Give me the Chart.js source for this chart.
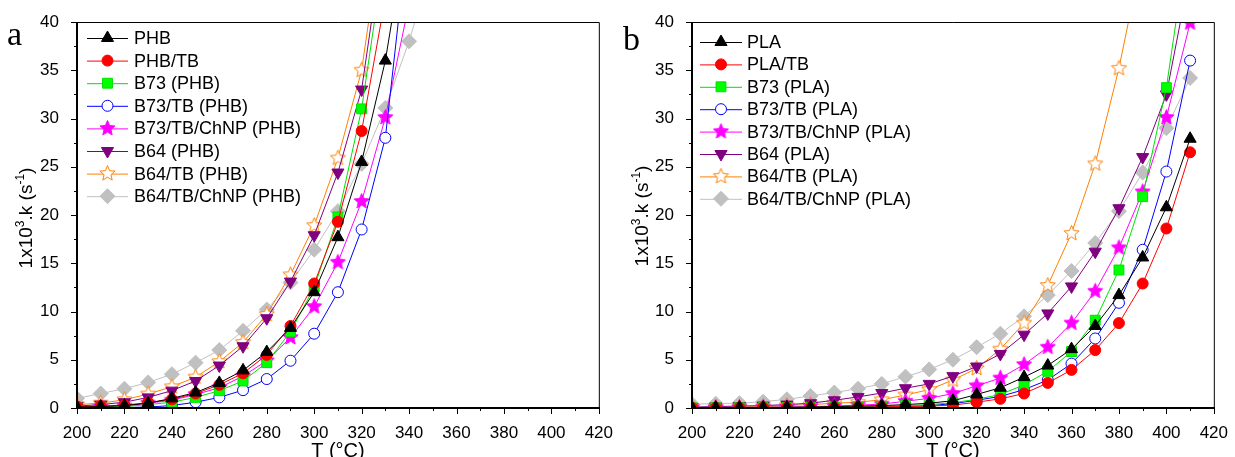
<!DOCTYPE html>
<html lang="en">
<head>
<meta charset="UTF-8">
<title>1x10³.k vs T</title>
<script src="https://cdn.jsdelivr.net/npm/chart.js"></script>
<style>
  body { margin: 0; background: #fff; }
  .panel { position: absolute; top: 0; }
</style>
</head>
<body>
<div class="panel" style="left:0"><canvas id="chartA" width="620" height="457"></canvas></div>
<div class="panel" style="left:615px"><canvas id="chartB" width="620" height="457"></canvas></div>
<script>
// temperatures (°C)
const tempsA = [200, 210, 220, 230, 240, 250, 260, 270, 280, 290, 300, 310, 320, 330, 340, 350];
const tempsB = [200, 210, 220, 230, 240, 250, 260, 270, 280, 290, 300, 310, 320, 330, 340, 350, 360, 370, 380, 390, 400, 410];

// panel a: PHB based samples, 1x10^3.k (s^-1)
const phb         = [0.1, 0.15, 0.25, 0.5, 1.0, 1.6, 2.6, 3.9, 5.8, 8.3, 12.0, 17.7, 25.5, 36.0, 51];
const phbTb       = [0.15, 0.2, 0.3, 0.55, 0.9, 1.5, 2.4, 3.6, 5.5, 8.5, 12.9, 19.3, 28.7, 42.5];
const b73Phb      = [0.05, 0.1, 0.15, 0.35, 0.6, 1.1, 1.8, 2.8, 4.7, 7.9, 12.5, 19.8, 31.0, 47.7];
const b73TbPhb    = [0.02, 0.03, 0.05, 0.1, 0.25, 0.6, 1.1, 1.85, 3.0, 4.9, 7.7, 12.0, 18.5, 28.0, 50];
const b73TbNpPhb  = [0.05, 0.1, 0.2, 0.5, 0.8, 1.4, 2.1, 3.3, 4.9, 7.3, 10.5, 15.1, 21.4, 30.1, 41.9];
const b64Phb      = [0.2, 0.35, 0.6, 1.1, 1.8, 2.8, 4.4, 6.4, 9.3, 13.1, 17.9, 24.4, 33.0, 50];
const b64TbPhb    = [0.35, 0.5, 0.85, 1.45, 2.2, 3.2, 4.8, 6.8, 9.7, 13.8, 18.9, 25.9, 35.0, 52];
const b64TbNpPhb  = [1.0, 1.5, 2.0, 2.65, 3.5, 4.7, 6.0, 8.0, 10.2, 13.0, 16.4, 20.4, 25.3, 31.1, 38.0, 46.3];

// panel b: PLA based samples
const pla         = [0.03, 0.04, 0.05, 0.06, 0.08, 0.1, 0.15, 0.2, 0.25, 0.35, 0.5, 0.75, 1.4, 2.1, 3.2, 4.4, 6.1, 8.5, 11.7, 15.6, 20.8, 27.9];
const plaTb       = [0.02, 0.02, 0.03, 0.04, 0.05, 0.06, 0.08, 0.1, 0.12, 0.15, 0.2, 0.3, 0.6, 0.95, 1.5, 2.6, 3.95, 6.0, 8.8, 12.9, 18.6, 26.5];
const b73Pla      = [0.02, 0.02, 0.03, 0.04, 0.05, 0.07, 0.1, 0.13, 0.18, 0.25, 0.35, 0.55, 0.9, 1.4, 2.4, 3.8, 5.85, 9.1, 14.3, 21.9, 33.2, 50];
const b73TbPla    = [0.01, 0.01, 0.02, 0.02, 0.03, 0.04, 0.05, 0.07, 0.1, 0.15, 0.25, 0.45, 0.8, 1.2, 1.9, 2.9, 4.6, 7.2, 10.9, 16.4, 24.5, 36.0];
const b73TbNpPla  = [0.02, 0.03, 0.05, 0.07, 0.1, 0.15, 0.2, 0.3, 0.4, 0.7, 1.0, 1.5, 2.3, 3.1, 4.5, 6.3, 8.8, 12.1, 16.6, 22.4, 30.1, 39.9];
const b64Pla      = [0.1, 0.15, 0.2, 0.25, 0.35, 0.5, 0.8, 1.15, 1.55, 2.05, 2.5, 3.3, 4.3, 5.6, 7.6, 9.8, 12.6, 16.2, 20.7, 26.0, 32.5, 45.2];
const b64TbPla    = [0.05, 0.05, 0.1, 0.15, 0.25, 0.35, 0.5, 0.6, 0.85, 1.35, 1.9, 2.9, 4.1, 6.1, 8.8, 12.7, 18.1, 25.3, 35.2, 47.2];
const b64TbNpPla  = [0.4, 0.45, 0.5, 0.65, 0.9, 1.25, 1.6, 2.0, 2.5, 3.25, 4.0, 5.0, 6.3, 7.7, 9.5, 11.7, 14.2, 17.1, 20.4, 24.4, 29.0, 34.2];

const labelsA = ['PHB', 'PHB/TB', 'B73 (PHB)', 'B73/TB (PHB)', 'B73/TB/ChNP (PHB)', 'B64 (PHB)', 'B64/TB (PHB)', 'B64/TB/ChNP (PHB)'];
const labelsB = ['PLA', 'PLA/TB', 'B73 (PLA)', 'B73/TB (PLA)', 'B73/TB/ChNP (PLA)', 'B64 (PLA)', 'B64/TB (PLA)', 'B64/TB/ChNP (PLA)'];

const FONT = 'Arial, "Liberation Sans", sans-serif';
Chart.defaults.font.family = FONT;
Chart.defaults.font.size = 17;
Chart.defaults.color = '#000';

function starImg(fill, stroke, r) {
  const c = document.createElement('canvas');
  const s = Math.ceil(r * 2 + 3);
  c.width = c.height = s;
  const g = c.getContext('2d');
  g.beginPath();
  for (let i = 0; i < 10; i++) {
    const rr = i % 2 ? r * 0.45 : r;
    const ang = -Math.PI / 2 + i * Math.PI / 5;
    g.lineTo(s / 2 + rr * Math.cos(ang), s / 2 + rr * Math.sin(ang));
  }
  g.closePath();
  g.fillStyle = fill; g.fill();
  g.lineWidth = 1; g.strokeStyle = stroke; g.stroke();
  return c;
}
const starFilled = starImg('#ff00ff', '#ff00ff', 8);
const starOpen = starImg('#ffffff', '#ff8000', 8);

// marker look of the 8 series (same order in both panels)
const styles = [
  { color: '#000000', fill: '#000000', pointStyle: 'triangle', radius: 7, rotation: 0 },
  { color: '#ff0000', fill: '#ff0000', pointStyle: 'circle', radius: 5.5, rotation: 0 },
  { color: '#00e000', fill: '#00ff00', pointStyle: 'rect', radius: 7, rotation: 0 },
  { color: '#0000ff', fill: '#ffffff', pointStyle: 'circle', radius: 5.5, rotation: 0 },
  { color: '#ff00ff', fill: '#ff00ff', pointStyle: starFilled, radius: 8, rotation: 0 },
  { color: '#800080', fill: '#800080', pointStyle: 'triangle', radius: 7, rotation: 180 },
  { color: '#ff8000', fill: '#ffffff', pointStyle: starOpen, radius: 8, rotation: 0 },
  { color: '#c0c0c0', fill: '#c0c0c0', pointStyle: 'rectRot', radius: 7.5, rotation: 0 }
];

function toPoints(temps, vals) {
  return vals.map((v, i) => ({ x: temps[i], y: v }));
}

function buildDatasets(temps, series, labels) {
  return series.map((vals, i) => {
    const st = styles[i];
    return {
      label: labels[i],
      data: toPoints(temps, vals),
      borderColor: st.color,
      backgroundColor: st.fill,
      borderWidth: 1,
      pointStyle: st.pointStyle,
      pointRadius: st.radius,
      pointRotation: st.rotation,
      pointBorderWidth: 1,
      pointBorderColor: st.color,
      pointBackgroundColor: st.fill,
      tension: 0
    };
  });
}

// rotated y title with real superscripts
function drawYTitle(ctx, cx, cy) {
  const big = '19px ' + FONT;
  const small = '12px ' + FONT;
  const parts = [['1x10', big, 0], ['3', small, -8], ['.k (s', big, 0], ['-1', small, -8], [')', big, 0]];
  let total = 0;
  parts.forEach(p => { ctx.font = p[1]; total += ctx.measureText(p[0]).width; });
  ctx.save();
  ctx.translate(cx, cy);
  ctx.rotate(-Math.PI / 2);
  ctx.fillStyle = '#000';
  ctx.textAlign = 'left';
  ctx.textBaseline = 'alphabetic';
  let x = -total / 2;
  parts.forEach(p => {
    ctx.font = p[1];
    ctx.fillText(p[0], x, 7 + p[2]);
    x += ctx.measureText(p[0]).width;
  });
  ctx.restore();
}

const decor = {
  id: 'decor',
  afterDraw(chart, args, o) {
    const ctx = chart.ctx, a = chart.chartArea, xs = chart.scales.x, ys = chart.scales.y;
    ctx.save();
    ctx.strokeStyle = '#000';
    // top/right frame thin, left/bottom axes thicker
    ctx.lineWidth = 1;
    ctx.beginPath();
    ctx.moveTo(a.left, a.top + 0.5); ctx.lineTo(a.right + 0.5, a.top + 0.5);
    ctx.lineTo(a.right + 0.5, a.bottom);
    ctx.stroke();
    ctx.lineWidth = 2;
    ctx.beginPath();
    ctx.moveTo(a.left, a.top); ctx.lineTo(a.left, a.bottom + 1);
    ctx.moveTo(a.left - 1, a.bottom); ctx.lineTo(a.right + 1, a.bottom);
    ctx.stroke();
    // ticks pointing outward
    ctx.lineWidth = 1;
    ctx.beginPath();
    for (let v = 200; v <= 420; v += 10) {
      const px = Math.round(xs.getPixelForValue(v)) + 0.5;
      const len = v % 20 === 0 ? 6 : 3;
      ctx.moveTo(px, a.bottom); ctx.lineTo(px, a.bottom + len);
    }
    for (let v = 0; v <= 40; v += 2.5) {
      const py = Math.round(ys.getPixelForValue(v)) + 0.5;
      const len = v % 5 === 0 ? 6 : 3;
      ctx.moveTo(a.left, py); ctx.lineTo(a.left - len, py);
    }
    ctx.stroke();

    // legend: line - marker - line, then label
    const L = o.legend;
    chart.data.datasets.forEach((ds, i) => {
      const y = L.y0 + i * L.dy;
      ctx.strokeStyle = ds.borderColor;
      ctx.lineWidth = 1;
      ctx.beginPath();
      ctx.moveTo(L.x1, y + 0.5); ctx.lineTo(L.x2, y + 0.5);
      ctx.stroke();
      ctx.fillStyle = ds.pointBackgroundColor;
      ctx.strokeStyle = ds.pointBorderColor;
      Chart.helpers.drawPoint(ctx, {
        pointStyle: ds.pointStyle, rotation: ds.pointRotation,
        radius: ds.pointRadius, borderWidth: 1
      }, (L.x1 + L.x2) / 2, y);
      ctx.fillStyle = '#000';
      ctx.font = '18px ' + FONT;
      ctx.textBaseline = 'middle';
      ctx.textAlign = 'left';
      ctx.fillText(ds.label, L.tx, y + 1);
    });

    // panel letter
    ctx.fillStyle = '#000';
    ctx.font = '34px "Liberation Serif", "Times New Roman", serif';
    ctx.textBaseline = 'alphabetic';
    ctx.textAlign = 'left';
    ctx.fillText(o.letter, o.letterX, o.letterY);

    // axis titles
    ctx.font = '20px ' + FONT;
    ctx.textAlign = 'center';
    ctx.fillText('T (°C)', (a.left + a.right) / 2, 457);
    drawYTitle(ctx, o.yTitleX, o.yTitleY);
    ctx.restore();
  }
};

function makeChart(id, temps, series, labels, deco, rightPad) {
  return new Chart(document.getElementById(id), {
    type: 'line',
    data: { datasets: buildDatasets(temps, series, labels) },
    options: {
      responsive: false,
      animation: false,
      devicePixelRatio: 1,
      layout: { padding: { top: 22, right: rightPad, bottom: 0, left: 0 } },
      plugins: { legend: { display: false }, tooltip: { enabled: false }, decor: deco },
      scales: {
        x: {
          type: 'linear', min: 200, max: 420,
          grid: { display: false },
          border: { display: false },
          ticks: { stepSize: 20, padding: 7, maxRotation: 0 },
          afterFit: s => { s.height = 49; }
        },
        y: {
          min: 0, max: 40,
          grid: { display: false },
          border: { display: false },
          ticks: { stepSize: 5, padding: 10 },
          afterFit: s => { s.width = 77; }
        }
      }
    },
    plugins: [decor]
  });
}

makeChart('chartA', tempsA,
  [phb, phbTb, b73Phb, b73TbPhb, b73TbNpPhb, b64Phb, b64TbPhb, b64TbNpPhb],
  labelsA,
  { legend: { x1: 87, x2: 128, tx: 134, y0: 38, dy: 22.6 }, letter: 'a', letterX: 7, letterY: 45, yTitleX: 25, yTitleY: 218 },
  18);

makeChart('chartB', tempsB,
  [pla, plaTb, b73Pla, b73TbPla, b73TbNpPla, b64Pla, b64TbPla, b64TbNpPla],
  labelsB,
  { legend: { x1: 85, x2: 127, tx: 132, y0: 42, dy: 22.4 }, letter: 'b', letterX: 8, letterY: 50, yTitleX: 26, yTitleY: 216 },
  16);
</script>
</body>
</html>
